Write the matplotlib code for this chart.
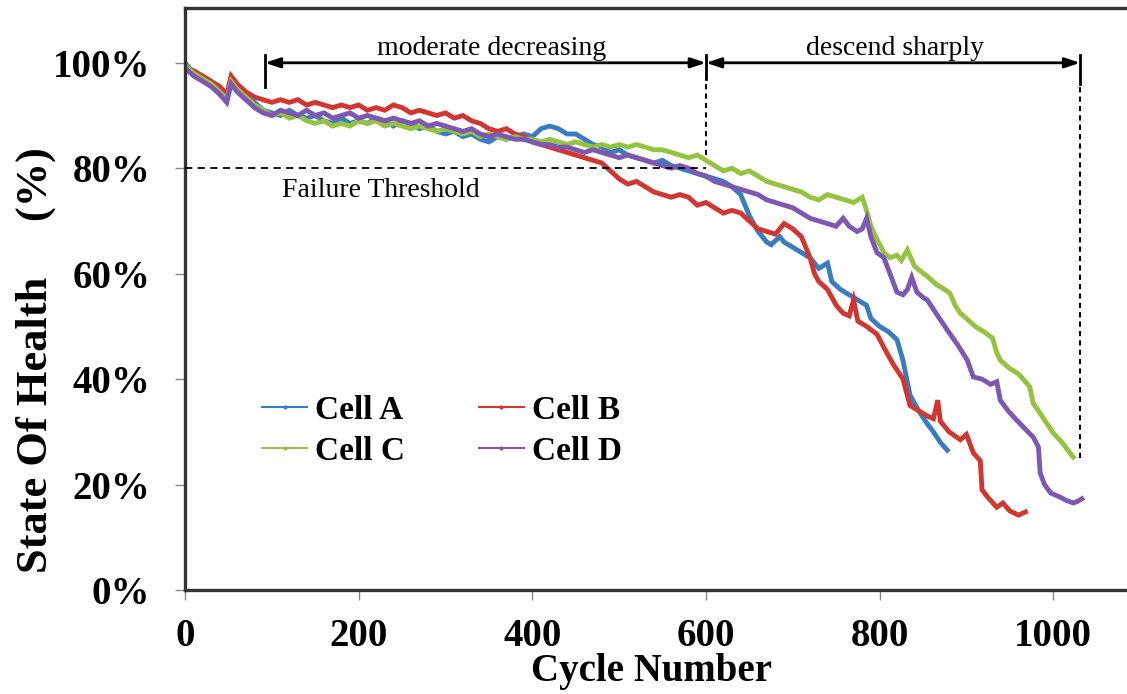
import numpy as np
import matplotlib.pyplot as plt
from matplotlib.lines import Line2D
from matplotlib.ticker import FuncFormatter

plt.rcParams['font.family'] = ['Liberation Serif', 'DejaVu Serif']

# Cell A (blue)
cyc_a = [0, 10, 20, 30, 40, 48, 53, 60, 70, 80, 90, 100, 110, 120, 130, 140, 150, 160, 170, 180,
         190, 200, 210, 220, 230, 240, 250, 260, 270, 280, 290, 300, 310, 320, 330, 340, 350, 360,
         370, 380, 390, 400, 410, 420, 430, 440, 450, 460, 470, 480, 490, 500, 510, 520, 530, 540,
         550, 560, 570, 580, 590, 600, 610, 620, 630, 640, 645, 650, 660, 670, 675, 685, 690, 700,
         710, 720, 730, 740, 745, 755, 765, 775, 785, 790, 800, 810, 820, 827, 835, 845, 855, 862,
         870, 878]
soh_a = [100, 98, 97.5, 96.5, 95, 93.5, 97, 95.5, 94, 92.5, 91, 90.5, 90, 91, 90, 89.5, 90, 89, 88.5, 89.5,
         88.5, 89, 88.5, 89.5, 89, 88, 89, 88.5, 87.5, 88, 87, 86.5, 87, 86, 86.5, 85.5, 85, 86,
         85.5, 86, 86.5, 86, 87.5, 88, 87.5, 86.5, 86.5, 85.5, 84.5, 84, 83, 83.5, 82.5, 82, 81.5, 81,
         81.5, 80.5, 80, 79.5, 79, 78.5, 78, 77.5, 76.5, 75, 73, 71, 68, 66, 65.5, 67, 66, 65,
         64, 63, 61, 62, 58.5, 57, 56, 55, 54, 51.5, 50, 49, 47.5, 43.5, 37, 34, 31.5, 30,
         28, 26.5]

# Cell B (red)
cyc_b = [0, 10, 20, 30, 40, 48, 53, 60, 70, 80, 90, 100, 110, 120, 130, 140, 150, 160, 170, 180,
         190, 200, 210, 220, 230, 240, 250, 260, 270, 280, 290, 300, 310, 320, 330, 340, 350, 360,
         370, 380, 390, 400, 410, 420, 430, 440, 450, 460, 470, 480, 490, 500, 510, 520, 530, 540,
         550, 560, 570, 580, 590, 600, 610, 620, 630, 640, 650, 660, 670, 680, 690, 700, 710, 720,
         725, 730, 740, 750, 758, 765, 770, 775, 785, 797, 805, 815, 827, 835, 845, 855, 862, 867,
         870, 880, 893, 900, 908, 916, 918, 925, 935, 942, 950, 960, 968]
soh_b = [99, 98.5, 97.5, 96.5, 95.5, 94, 97.5, 96, 94.5, 93.5, 93, 92.5, 93, 92.5, 93, 92, 92.5, 92, 91.5, 92,
         91.5, 92, 91, 91.5, 91, 92, 91.5, 90.5, 91, 90.5, 90, 90.5, 89.5, 90, 89, 88.5, 87.5, 87,
         87.5, 86.5, 86, 85, 84.5, 84, 83.5, 83, 82.5, 82, 81.5, 81, 79.5, 78, 77, 77.5, 76.5, 75.5,
         75, 74.5, 75, 74.5, 73, 73.5, 72.5, 71.5, 72, 71.5, 70, 68.5, 68, 67.5, 69.5, 68.5, 67, 63,
         60, 58.5, 57, 54, 52.5, 52, 55, 51, 50, 48.5, 46, 43, 40, 35, 34, 33, 32.5, 36,
         32, 30, 28.5, 29.5, 26, 24.5, 19, 17.5, 15.7, 16.5, 15, 14.2, 14.8]

# Cell C (green)
cyc_c = [0, 10, 20, 30, 40, 48, 53, 60, 70, 80, 90, 100, 110, 120, 130, 140, 150, 160, 170, 180,
         190, 200, 210, 220, 230, 240, 250, 260, 270, 280, 290, 300, 310, 320, 330, 340, 350, 360,
         370, 380, 390, 400, 410, 420, 430, 440, 450, 460, 470, 480, 490, 500, 510, 520, 530, 540,
         550, 560, 570, 580, 590, 600, 610, 620, 630, 640, 650, 660, 670, 680, 690, 700, 710, 720,
         730, 740, 750, 760, 770, 780, 785, 790, 797, 805, 812, 820, 825, 832, 840, 847, 855, 865,
         875, 881, 887, 893, 900, 910, 920, 930, 935, 939, 950, 960, 968, 973, 977, 985, 993, 1000,
         1010, 1017, 1023]
soh_c = [99.5, 98, 97, 96, 94.5, 93, 96.5, 95, 93.5, 92, 91, 90, 90.5, 89.5, 90, 89, 88.5, 89, 88, 88.5,
         88, 89, 88.5, 89, 88, 88.5, 88, 87.5, 88, 87.5, 87, 87.5, 87, 86.5, 87, 86, 86.5, 86,
         85.5, 86, 85.5, 85.5, 85, 85.5, 85, 84.5, 85, 84.5, 84, 84.5, 84, 84.5, 84, 84.5, 84, 83.5,
         83.5, 83, 82.5, 82, 82.5, 81.5, 80.5, 79.5, 80, 79, 79.5, 78.5, 77.5, 77, 76.5, 76, 75.5, 74.5,
         74, 75, 74.5, 74, 73.5, 74.5, 72, 69, 66.5, 64, 63, 63.5, 62.5, 64.5, 61.5, 60.5, 59.5, 58,
         57, 56.3, 54, 52.5, 51.5, 50, 49, 47.8, 45, 43.6, 42, 41, 39.5, 38.5, 35.4, 33.5, 31.5, 29.8,
         28, 26.5, 25.2]

# Cell D (purple)
cyc_d = [0, 10, 20, 30, 40, 48, 53, 60, 70, 80, 90, 100, 110, 120, 130, 140, 150, 160, 170, 180,
         190, 200, 210, 220, 230, 240, 250, 260, 270, 280, 290, 300, 310, 320, 330, 340, 350, 360,
         370, 380, 390, 400, 410, 420, 430, 440, 450, 460, 470, 480, 490, 500, 510, 520, 530, 540,
         550, 560, 570, 580, 590, 600, 610, 620, 630, 640, 650, 660, 670, 680, 690, 700, 710, 720,
         730, 740, 750, 758, 765, 774, 780, 785, 790, 797, 805, 812, 820, 827, 832, 837, 843, 850,
         855, 865, 878, 890, 901, 908, 918, 928, 935, 939, 948, 958, 968, 977, 983, 985, 990, 997,
         1008, 1015, 1023, 1028, 1033]
soh_d = [99, 97.5, 96.5, 95.5, 94, 92.5, 96, 94.5, 93, 91.5, 90.5, 90, 91, 90.5, 90, 91, 90, 90.5, 89.5, 90,
         90.5, 89.5, 90, 89.5, 89, 89.5, 89, 88.5, 89, 88, 88.5, 88, 87.5, 87, 87.5, 86.5, 86, 86.5,
         86, 85.5, 85.5, 85, 84.5, 84.5, 84, 84, 83.5, 83, 83.5, 83, 82.5, 82, 82.5, 82, 81.5, 81,
         80.5, 80, 80.5, 80, 79, 78.5, 77.5, 77, 76.5, 76, 75.5, 75, 74, 73.5, 73, 72.5, 71.5, 70.5,
         70, 69.5, 69, 70.5, 69, 68, 68.5, 70.5, 67, 64, 63, 60, 56.5, 56, 57, 59.3, 56.5, 55.5,
         55, 52.5, 49.3, 46.5, 43.6, 40.4, 40, 39, 39.5, 36, 34, 32.2, 30.5, 29, 27.1, 22.2, 20, 18.4,
         17.6, 17, 16.5, 16.8, 17.3]

names = ['Cell A', 'Cell B', 'Cell C', 'Cell D']
colors = ['#3a7cc3', '#d23630', '#94c33f', '#7d58b3']

fig = plt.figure(figsize=(11.27, 6.94), dpi=100)
ax = fig.add_axes([0.1642, 0.1499, 0.8358, 0.8386])

for c, s, col in [(cyc_a, soh_a, colors[0]), (cyc_b, soh_b, colors[1]),
                  (cyc_c, soh_c, colors[2]), (cyc_d, soh_d, colors[3])]:
    ax.plot(c, np.array(s) / 100, color=col, lw=3.5, solid_joinstyle='miter')

# failure threshold
ax.plot([0, 600], [0.8, 0.8], color='k', lw=1.3, ls=(0, (4, 3)), zorder=5)
ax.text(225, 0.757, 'Failure Threshold', fontsize=20, ha='center', va='center')

# region markers
ax.plot([92, 92], [0.955, 1.014], color='k', lw=2)
ax.plot([600, 600], [0.97, 1.015], color='k', lw=2)
ax.plot([1031, 1031], [0.96, 1.015], color='k', lw=2)
ax.plot([600, 600], [0.825, 0.97], color='k', lw=1.5, ls=(0, (2.5, 2)))
ax.plot([1031, 1031], [0.25, 0.96], color='k', lw=1.5, ls=(0, (2.5, 2)))
arr = dict(arrowstyle='<|-|>,head_length=0.9,head_width=0.3', color='k', lw=2,
           shrinkA=0, shrinkB=0)
ax.annotate('', xy=(92, 1.0), xytext=(600, 1.0), arrowprops=arr)
ax.annotate('', xy=(600, 1.0), xytext=(1031, 1.0), arrowprops=arr)
ax.text(353, 1.028, 'moderate decreasing', fontsize=20, ha='center', va='center')
ax.text(818, 1.028, 'descend sharply', fontsize=20, ha='center', va='center')

ax.set_xlim(0, 1085)
ax.set_ylim(0, 1.104)
ax.set_xticks([0, 200, 400, 600, 800, 1000])
ax.set_yticks([0, 0.2, 0.4, 0.6, 0.8, 1.0])
ax.yaxis.set_major_formatter(FuncFormatter(lambda v, p: '%d%%' % round(v * 100)))
ax.tick_params(axis='both', labelsize=28, direction='out', length=7, width=1, color='#888888')
ax.tick_params(axis='y', pad=18)
ax.tick_params(axis='x', pad=13)
for lab in ax.get_xticklabels() + ax.get_yticklabels():
    lab.set_fontweight('bold')

for side in ['left', 'bottom', 'top']:
    ax.spines[side].set_linewidth(2.4)
    ax.spines[side].set_color('#333333')
ax.spines['right'].set_visible(False)

ax.set_xlabel('Cycle Number', fontsize=28, fontweight='bold', labelpad=0)
ax.set_ylabel('State Of Health     (%)', fontsize=32, fontweight='bold')
ax.yaxis.set_label_coords(-0.137, 0.395)
ax.xaxis.set_label_coords(0.495, -0.108)

# legend filled row-wise: A, B / C, D
order = [0, 2, 1, 3]
handles = [Line2D([], [], color=colors[i], lw=1.5, marker='.', markersize=4) for i in order]
ax.legend(handles, [names[i] for i in order], ncol=2, loc='center left',
          bbox_to_anchor=(0.0817, 0.273), frameon=False, prop={'size': 24, 'weight': 'bold'},
          handlelength=1.35, handletextpad=0.25, columnspacing=2.2, labelspacing=0.3,
          borderpad=0, borderaxespad=0)

fig.savefig('out.png', dpi=100)
